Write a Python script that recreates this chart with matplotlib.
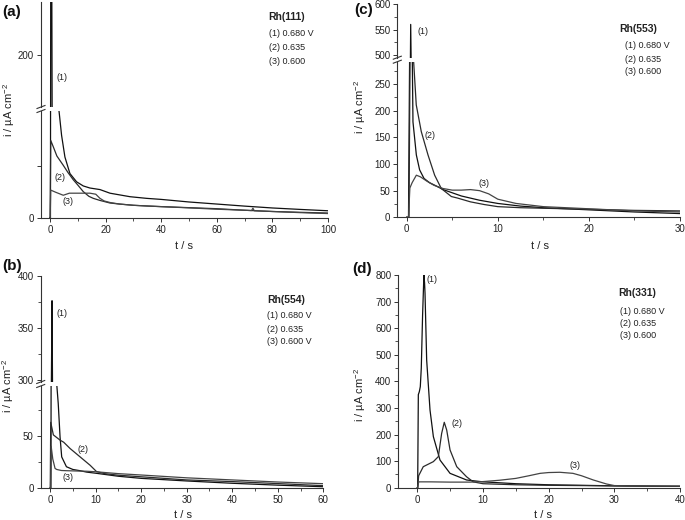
import matplotlib
matplotlib.use('Agg')
import matplotlib.pyplot as plt
from matplotlib.ticker import MultipleLocator, FixedLocator
from matplotlib.lines import Line2D

plt.rcParams['font.family'] = ['Liberation Sans', 'DejaVu Sans']
plt.rcParams['mathtext.default'] = 'regular'

# ---------------- data ----------------
# (a) Rh(111), t in s, i in uA cm-2
a1_t = [0, 0.2, 0.3, 0.65, 0.8, 1.5, 2.3, 3.3, 4.2, 5.4, 7.2, 9.6, 12, 14.4, 18, 21.6, 28.8, 34.8, 40, 50, 60, 70, 80, 90, 100]
a1_i = [0, 0, 300, 300, 150, 135, 118, 103, 80, 59, 43, 35, 31, 29, 27.5, 24, 20.6, 19, 18, 15.5, 13.5, 11.5, 9.7, 8.3, 7]
a2_t = [0, 0.1, 0.3, 1.2, 2.5, 4.8, 6.5, 8.4, 10, 12, 14, 15.6, 18, 21.6, 25, 30, 34.8, 40, 50, 60, 70, 80, 90, 100]
a2_i = [0, 0, 75, 69, 60, 51, 44, 37, 32, 25.5, 21, 19, 17, 14.5, 13.5, 12.3, 11.6, 11, 10, 9, 7.5, 6.3, 5.5, 4.8]
a3_t = [0, 0.1, 0.3, 2, 4.8, 7, 10, 14.4, 16.5, 18, 19.5, 21.6, 25, 30, 40, 50, 60, 70, 72.5, 73, 73.5, 75, 80, 90, 100]
a3_i = [0, 0, 27, 25, 22, 24, 24, 24, 23, 19, 16.5, 15, 13.5, 12.3, 11, 9.8, 8.5, 7.5, 7.2, 9.5, 7.0, 6.8, 6.3, 5.2, 4.3]

# (b) Rh(554)
b1_t = [0, 0.2, 0.3, 0.44, 0.6, 1.0, 1.46, 1.8, 2.2, 2.56, 3.6, 5, 6.6, 8, 10.2, 15, 20, 30, 40, 50, 60]
b1_i = [0, 0, 300, 376, 250, 150, 100, 81, 49, 30, 20.6, 18, 16.8, 15.5, 14.3, 11.5, 9.5, 7, 4.8, 3, 1.5]
b2_t = [0, 0.05, 0.15, 0.73, 2.2, 3, 4.4, 6.6, 8.8, 10.2, 12, 15, 20, 30, 40, 50, 60]
b2_i = [0, 0, 63, 51, 46, 44, 38, 30, 22, 16, 14, 12.5, 11, 8, 6.4, 4.5, 2.5]
b3_t = [0, 0.1, 0.25, 0.6, 1.1, 1.46, 2.5, 3.7, 6, 8, 10, 15, 20, 30, 40, 50, 60]
b3_i = [0, 0, 40, 28, 19, 18, 17, 16.8, 16.5, 16.3, 15.8, 14, 12.7, 10, 8, 6, 4.4]

# (c) Rh(553)
c1_t = [0, 0.2, 0.3, 0.44, 0.55, 0.69, 1.06, 1.42, 1.9, 2.5, 3.1, 4, 5, 6, 8, 10, 12.5, 15, 20, 25, 30]
c1_i = [0, 0, 250, 560, 400, 179, 117, 89, 73, 65, 60, 52, 46, 40, 32, 26, 21, 18, 14, 10, 7]
c2_t = [0, 0.25, 0.4, 0.55, 0.77, 1.05, 1.6, 2.34, 3.07, 3.8, 4.9, 5.6, 7, 8.5, 10, 12.5, 15, 20, 25, 30]
c2_i = [0, 0, 380, 400, 290, 211, 161, 117, 79, 54, 39, 36, 29, 24, 20, 18, 17, 15, 13, 12]
c3_t = [0, 0.2, 0.35, 0.6, 1.06, 1.5, 2.2, 3, 4, 5, 6, 7, 8, 9, 10, 12, 15, 20, 25, 30]
c3_i = [0, 0, 55, 65, 79, 76, 68, 60, 54, 51, 51, 52, 50, 44, 34, 26, 20, 16, 12, 10]

# (d) Rh(331)
d1_t = [0, 0.05, 0.15, 0.3, 0.45, 0.6, 0.8, 1.0, 1.1, 1.17, 1.42, 1.93, 2.44, 3.45, 4.98, 7.5, 10, 15, 20, 25, 30, 35, 40]
d1_i = [0, 0, 350, 361, 380, 450, 650, 800, 770, 731, 480, 292, 192, 104, 54, 29, 22, 15, 11, 9, 7, 6, 5]
d2_t = [0, 0.05, 0.2, 0.9, 2.44, 3.2, 3.7, 4.1, 4.47, 4.98, 6, 7.5, 8.5, 10, 15, 20, 25, 30, 35, 40]
d2_i = [0, 0, 45, 79, 98, 117, 204, 246, 217, 142, 79, 41, 22, 15, 11, 9, 8, 7, 6, 5]
d3_t = [0, 0.05, 0.2, 2, 5, 8, 10, 12.5, 15, 17, 18.7, 20, 21.7, 23.7, 25, 26.8, 28.8, 30, 32, 35, 40]
d3_i = [0, 0, 22, 22, 21, 21, 23, 28, 35, 45, 54, 57, 58, 54, 45, 29, 14, 8, 7, 6, 6]

surfaces = ['Rh(111)', 'Rh(554)', 'Rh(553)', 'Rh(331)']
legend_a = ['(1) 0.680 V', '(2) 0.635', '(3) 0.600']
legend_b = ['(1) 0.680 V', '(2) 0.635', '(3) 0.600 V']
curve_labels = ['(1)', '(2)', '(3)']

# ---------------- layout helpers ----------------
W, H = 685, 520
fig = plt.figure(figsize=(W / 100, H / 100), dpi=100)

def rect(x0, yt, x1, yb):
    return [x0 / W, 1 - yb / H, (x1 - x0) / W, (yb - yt) / H]

SP = '#333333'
TXT = '#222222'
COLS = ['#111111', '#2a2a2a', '#444444']

def style(ax, bottom=True):
    for s in ['top', 'right']:
        ax.spines[s].set_visible(False)
    for s in ['left', 'bottom']:
        ax.spines[s].set_color(SP)
        ax.spines[s].set_linewidth(0.8)
    ax.tick_params(which='major', direction='out', length=3, width=0.7,
                   labelsize=7, colors=SP, labelcolor=TXT, pad=2)
    ax.tick_params(which='minor', direction='out', length=2, width=0.6, colors=SP)
    if not bottom:
        ax.spines['bottom'].set_visible(False)
        ax.tick_params(axis='x', which='both', bottom=False, labelbottom=False)

def ftext(x, y, s, **kw):
    kw.setdefault('color', TXT)
    fig.text(x / W, 1 - y / H, s, **kw)

def brk(x, y):
    for off in (-2.0, 2.0):
        fig.add_artist(Line2D([(x - 4) / W, (x + 4) / W],
                              [1 - (y + off + 1.5) / H, 1 - (y + off - 1.5) / H],
                              color=SP, lw=0.8))

def plot_set(axes, ts, ys):
    for ax in axes:
        for k, (t, y) in enumerate(zip(ts, ys)):
            ax.plot(t, y, color=COLS[k], lw=0.9)

# ---------------- (a) ----------------
aL = fig.add_axes(rect(41, 111, 328, 218))
aU = fig.add_axes(rect(41, 2, 328, 107))
plot_set([aL, aU], [a1_t, a2_t, a3_t], [a1_i, a2_i, a3_i])
for ax in (aL, aU):
    ax.set_xlim(-3.2, 100)
aL.set_ylim(0, 103.5)
aU.set_ylim(149.5, 251)
style(aL); style(aU, bottom=False)
aL.xaxis.set_major_locator(MultipleLocator(20))
aL.xaxis.set_minor_locator(MultipleLocator(10))
aL.yaxis.set_major_locator(FixedLocator([0, 50]))
aL.set_yticklabels(['0', ''])
aU.yaxis.set_major_locator(FixedLocator([200]))
brk(41, 109)

# ---------------- (b) ----------------
bL = fig.add_axes(rect(40.7, 386, 323.3, 488.3))
bU = fig.add_axes(rect(40.7, 275.7, 323.3, 382))
plot_set([bL, bU], [b1_t, b2_t, b3_t], [b1_i, b2_i, b3_i])
for ax in (bL, bU):
    ax.set_xlim(-2.05, 60)
bL.set_ylim(0, 97.7)
bU.set_ylim(298.1, 400)
style(bL); style(bU, bottom=False)
bL.xaxis.set_major_locator(MultipleLocator(10))
bL.xaxis.set_minor_locator(MultipleLocator(5))
bL.yaxis.set_major_locator(FixedLocator([0, 50]))
bL.yaxis.set_minor_locator(FixedLocator([25, 75]))
bU.yaxis.set_major_locator(FixedLocator([300, 350, 400]))
bU.yaxis.set_minor_locator(FixedLocator([325, 375]))
brk(40.7, 384)

# ---------------- (c) ----------------
cL = fig.add_axes(rect(397.3, 61.7, 680, 217.3))
cU = fig.add_axes(rect(397.3, 4, 680, 57.6))
plot_set([cL, cU], [c1_t, c2_t, c3_t], [c1_i, c2_i, c3_i])
for ax in (cL, cU):
    ax.set_xlim(-1.03, 30)
cL.set_ylim(0, 292)
cU.set_ylim(495, 600)
style(cL); style(cU, bottom=False)
cL.xaxis.set_major_locator(MultipleLocator(10))
cL.xaxis.set_minor_locator(MultipleLocator(5))
cL.yaxis.set_major_locator(FixedLocator([0, 50, 100, 150, 200, 250]))
cL.yaxis.set_minor_locator(FixedLocator([25, 75, 125, 175, 225, 275]))
cU.yaxis.set_major_locator(FixedLocator([500, 550, 600]))
cU.yaxis.set_minor_locator(FixedLocator([525, 575]))
brk(397.3, 59.7)

# ---------------- (d) ----------------
dA = fig.add_axes(rect(398.3, 275, 680, 487.7))
plot_set([dA], [d1_t, d2_t, d3_t], [d1_i, d2_i, d3_i])
dA.set_xlim(-2.9, 40)
dA.set_ylim(0, 800)
style(dA)
dA.xaxis.set_major_locator(MultipleLocator(10))
dA.xaxis.set_minor_locator(MultipleLocator(5))
dA.yaxis.set_major_locator(MultipleLocator(100))
dA.yaxis.set_minor_locator(MultipleLocator(50))

# ---------------- texts ----------------
ylab = 'i / \u00b5A cm$^{-2}$'
for (x, y) in [(9, 110), (8, 386), (360, 107), (360, 395)]:
    ftext(x, y, ylab, rotation=90, ha='center', va='center', fontsize=8)
for (x, y) in [(184, 246), (183, 515), (540, 246), (543, 515)]:
    ftext(x, y, 't / s', ha='center', va='center', fontsize=8)

for (x, y), s in zip([(2, 12), (2, 266), (354, 10), (352, 269)], ['(a)', '(b)', '(c)', '(d)']):
    ftext(x, y, s, ha='left', va='center', fontsize=11, fontweight='bold', color='#111111')

legend_pos = [(268, 17, 269, [34, 48, 62]), (267, 300, 267, [316, 330, 342]),
              (619, 29, 625, [45, 59, 72]), (618, 293, 620, [311, 324, 336])]
legend_txt = [legend_a, legend_b, legend_a, legend_a]
for (xs, ys, xl, yl), name, lt in zip(legend_pos, surfaces, legend_txt):
    ftext(xs, ys, name, ha='left', va='center', fontsize=7.5, fontweight='bold')
    for yy, s in zip(yl, lt):
        ftext(xl, yy, s, ha='left', va='center', fontsize=6.5)

lab_pos = [[(62, 77), (60, 177), (68, 201)],
           [(62, 313), (83, 449), (68, 478)],
           [(423, 31), (430, 136), (484, 183)],
           [(432, 279), (457, 423), (575, 465)]]
for pos in lab_pos:
    for (x, y), s in zip(pos, curve_labels):
        ftext(x, y, s, ha='center', va='center', fontsize=6.5)

fig.savefig('out.png', dpi=100)
